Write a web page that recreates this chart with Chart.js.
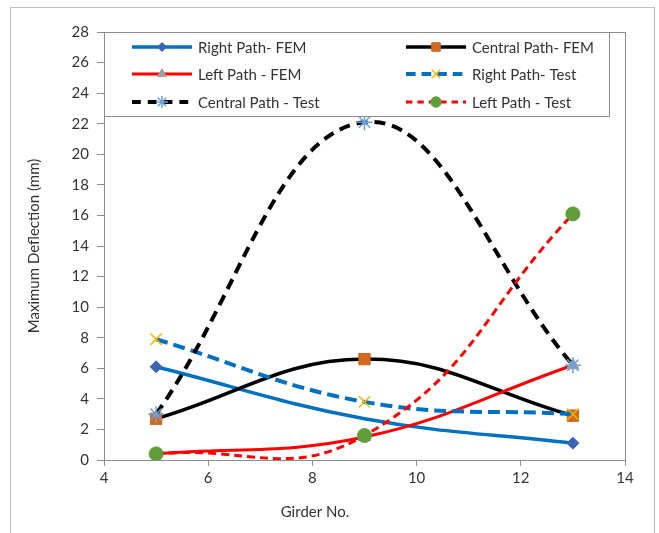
<!DOCTYPE html>
<html>
<head>
<meta charset="utf-8">
<script src="https://cdn.jsdelivr.net/npm/chart.js@4.4.1/dist/chart.umd.min.js"></script>
<style>
  html, body { margin: 0; padding: 0; background: #fff; }
  #wrap { width: 659px; height: 533px; }
</style>
</head>
<body>
<div id="wrap"><canvas id="chart1" width="659" height="533"></canvas></div>
<script>
// girder numbers on the x axis
var girders = [5, 9, 13];

// maximum deflection (mm) per path
var rightFem = [6.1, 2.7, 1.1];
var centralFem = [2.7, 6.6, 2.9];
var leftFem = [0.4, 1.5, 6.2];
var rightTest = [7.9, 3.8, 3.0];
var centralTest = [3.0, 22.1, 6.2];
var leftTest = [0.4, 1.6, 16.1];

var xTicks = [4, 6, 8, 10, 12, 14];
var yTicks = [0, 2, 4, 6, 8, 10, 12, 14, 16, 18, 20, 22, 24, 26, 28];

var FONT = 'Lato, "Open Sans", sans-serif';
var TEXT = '#333333';

function pts(ys) {
  return girders.map(function (x, i) { return { x: x, y: ys[i] }; });
}

// the middle diamond of the right FEM path is not shown in the original
var series = [
  { label: 'Right Path- FEM', data: rightFem, color: '#0070C0', width: 3.5, dash: [], tension: 0.4,
    marker: 'rectRot', mColor: '#3C64B4', mBorder: '#3C64B4', r: 6, radii: [6, 0, 6] },
  { label: 'Central Path- FEM', data: centralFem, color: '#000000', width: 3.5, dash: [], tension: 0.4,
    marker: 'rect', mColor: '#D2691E', mBorder: '#C8641E', r: 8 },
  { label: 'Left Path - FEM', data: leftFem, color: '#FF0000', width: 3, dash: [], tension: 0.4,
    marker: 'triangle', mColor: '#A0A0A0', mBorder: '#A0A0A0', r: 7 },
  { label: 'Right Path- Test', data: rightTest, color: '#0070C0', width: 4, dash: [12, 6], tension: 0.4,
    marker: 'crossRot', mColor: 'rgba(0,0,0,0)', mBorder: '#F5B800', r: 8 },
  { label: 'Central Path - Test', data: centralTest, color: '#000000', width: 4, dash: [11, 7], tension: 0.4,
    marker: 'star', mColor: 'rgba(0,0,0,0)', mBorder: '#6FA0D8', r: 8 },
  { label: 'Left Path - Test', data: leftTest, color: '#FF0000', width: 3, dash: [8, 5], tension: 0.45,
    marker: 'circle', mColor: '#5F9E3A', mBorder: '#5F9E3A', r: 7 }
];

function thin(s) { return s.marker === 'crossRot' || s.marker === 'star'; }

var datasets = series.map(function (s, i) {
  return {
    label: s.label,
    data: pts(s.data),
    showLine: true,
    tension: s.tension,
    capBezierPoints: false,
    borderColor: s.color,
    borderWidth: s.width,
    borderDash: s.dash,
    pointStyle: s.marker,
    pointRadius: s.radii || s.r,
    pointHoverRadius: s.radii || s.r,
    pointBackgroundColor: s.mColor,
    pointBorderColor: s.mBorder,
    pointBorderWidth: thin(s) ? 1.5 : 1,
    order: series.length - i
  };
});

// outer frame, plot border, x title and the boxed legend inside the plot
var decor = {
  id: 'decor',
  beforeDraw: function (chart) {
    var ctx = chart.ctx;
    ctx.save();
    ctx.strokeStyle = '#BFBFBF';
    ctx.lineWidth = 1;
    ctx.strokeRect(10.5, 7.5, 644, 540);
    ctx.restore();
  },
  afterDraw: function (chart) {
    var ctx = chart.ctx;
    var a = chart.chartArea;
    ctx.save();
    ctx.strokeStyle = '#8C8C8C';
    ctx.lineWidth = 1;
    ctx.strokeRect(Math.round(a.left) + 0.5, Math.round(a.top) + 0.5,
      Math.round(a.right - a.left), Math.round(a.bottom - a.top));

    // x axis title
    ctx.fillStyle = TEXT;
    ctx.font = '15px ' + FONT;
    ctx.textAlign = 'center';
    ctx.textBaseline = 'middle';
    ctx.fillText('Girder No.', 315, 512);

    // legend box
    var bx = Math.round(a.left) + 0.5, by = Math.round(a.top) + 0.5;
    ctx.fillStyle = '#fff';
    ctx.fillRect(bx, by, 505, 84);
    ctx.strokeRect(bx, by, 505, 84);

    var cols = [132, 406];
    var rows = [47, 74, 102];
    ctx.textAlign = 'left';
    series.forEach(function (s, i) {
      var x0 = cols[i % 2], y = rows[Math.floor(i / 2)];
      ctx.save();
      ctx.strokeStyle = s.color;
      ctx.lineWidth = s.width;
      ctx.setLineDash(s.dash.length ? [s.dash[0] * 0.8, s.dash[1]] : []);
      ctx.beginPath();
      ctx.moveTo(x0, y);
      ctx.lineTo(x0 + 60, y);
      ctx.stroke();
      ctx.setLineDash([]);
      ctx.fillStyle = s.mColor;
      ctx.strokeStyle = s.mBorder;
      ctx.lineWidth = thin(s) ? 1.5 : 1;
      Chart.helpers.drawPoint(ctx, {
        pointStyle: s.marker, radius: s.r * 0.75, rotation: 0,
        borderWidth: thin(s) ? 1.5 : 1
      }, x0 + 30, y);
      ctx.restore();
      ctx.fillStyle = TEXT;
      ctx.font = '15px ' + FONT;
      ctx.fillText(s.label, x0 + 66, y + 1);
    });
    ctx.restore();
  }
};

var graph = document.getElementById('chart1');

var myChart = new Chart(graph, {
  type: 'scatter',
  data: { datasets: datasets },
  options: {
    responsive: false,
    animation: false,
    layout: { padding: { left: 12, right: 34, top: 32, bottom: 8 } },
    plugins: {
      legend: { display: false },
      tooltip: { enabled: false }
    },
    scales: {
      x: {
        type: 'linear',
        min: 4, max: 14,
        afterFit: function (s) { s.height = 65; },
        afterBuildTicks: function (s) { s.ticks = xTicks.map(function (v) { return { value: v }; }); },
        ticks: { color: TEXT, font: { size: 15, family: FONT }, padding: 3, maxRotation: 0 },
        grid: { drawOnChartArea: false, drawTicks: true, tickLength: 6, color: '#8C8C8C' },
        border: { display: true, color: '#8C8C8C' }
      },
      y: {
        min: 0, max: 28,
        afterFit: function (s) { s.width = 92; },
        afterBuildTicks: function (s) { s.ticks = yTicks.map(function (v) { return { value: v }; }); },
        ticks: { color: TEXT, font: { size: 15, family: FONT }, padding: 8 },
        grid: { drawOnChartArea: false, drawTicks: true, tickLength: 7, color: '#8C8C8C' },
        border: { display: true, color: '#8C8C8C' },
        title: {
          display: true,
          text: 'Maximum Deflection (mm)',
          color: TEXT,
          font: { size: 15, family: FONT },
          padding: { top: 13, bottom: 0 }
        }
      }
    }
  },
  plugins: [decor]
});
</script>
</body>
</html>
